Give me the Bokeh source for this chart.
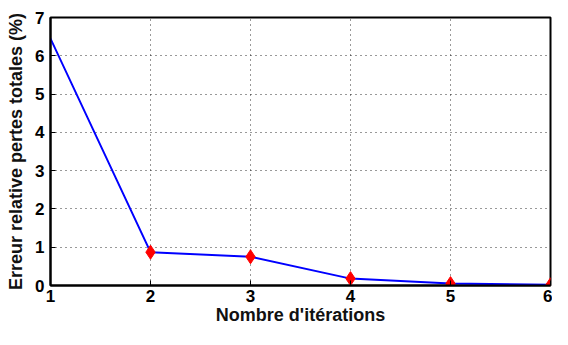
from bokeh.plotting import figure
from bokeh.models import Range1d, FixedTicker
from bokeh.embed import file_html
from bokeh.resources import INLINE

iterations = [1, 2, 3, 4, 5, 6]
erreur = [6.45, 0.87, 0.75, 0.18, 0.05, 0.02]
marker_x = [2, 3, 4, 5, 6]
marker_y = [0.87, 0.75, 0.18, 0.05, 0.02]
x_ticks = [1, 2, 3, 4, 5, 6]
y_ticks = [0, 1, 2, 3, 4, 5, 6, 7]

FONT = "Liberation Sans"

p = figure(width=552, height=329, output_backend="svg", toolbar_location=None,
           x_range=Range1d(1, 6), y_range=Range1d(0, 7))
p.min_border_left = 50
p.min_border_right = 2
p.min_border_top = 17
p.min_border_bottom = 44
p.background_fill_color = "white"
p.border_fill_color = "white"
p.outline_line_color = "black"
p.outline_line_width = 2

for ax in (p.xaxis[0], p.yaxis[0]):
    ax.axis_line_color = "black"
    ax.axis_line_width = 2
    ax.major_tick_in = 5
    ax.major_tick_out = 0
    ax.minor_tick_line_color = None
    ax.major_tick_line_color = "black"
    ax.major_tick_line_width = 1
    ax.major_label_text_font = FONT
    ax.major_label_text_font_size = "17px"
    ax.major_label_text_font_style = "bold"
    ax.major_label_text_color = "black"
    ax.axis_label_text_font = FONT
    ax.axis_label_text_font_size = "18px"
    ax.axis_label_text_font_style = "bold"
    ax.axis_label_text_color = "#111111"

p.xaxis[0].ticker = FixedTicker(ticks=x_ticks)
p.yaxis[0].ticker = FixedTicker(ticks=y_ticks)
p.xaxis[0].axis_label = "Nombre d'itérations"
p.yaxis[0].axis_label = "Erreur relative pertes totales (%)"
p.xaxis[0].major_label_standoff = 4
p.yaxis[0].major_label_standoff = 6
p.xaxis[0].axis_label_standoff = 0
p.yaxis[0].axis_label_standoff = 6

p.xgrid.ticker = FixedTicker(ticks=x_ticks)
p.ygrid.ticker = FixedTicker(ticks=y_ticks)
for g in (p.xgrid, p.ygrid):
    g.grid_line_color = "black"
    g.grid_line_dash = "1 4"
    g.grid_line_width = 1
    g.grid_line_alpha = 0.8

p.line(iterations, erreur, line_color="#0000ff", line_width=2)
p.scatter(marker_x, marker_y, marker="diamond", size=14, fill_color="red",
          line_color="red")

open("out.html", "w").write(file_html(p, INLINE))
